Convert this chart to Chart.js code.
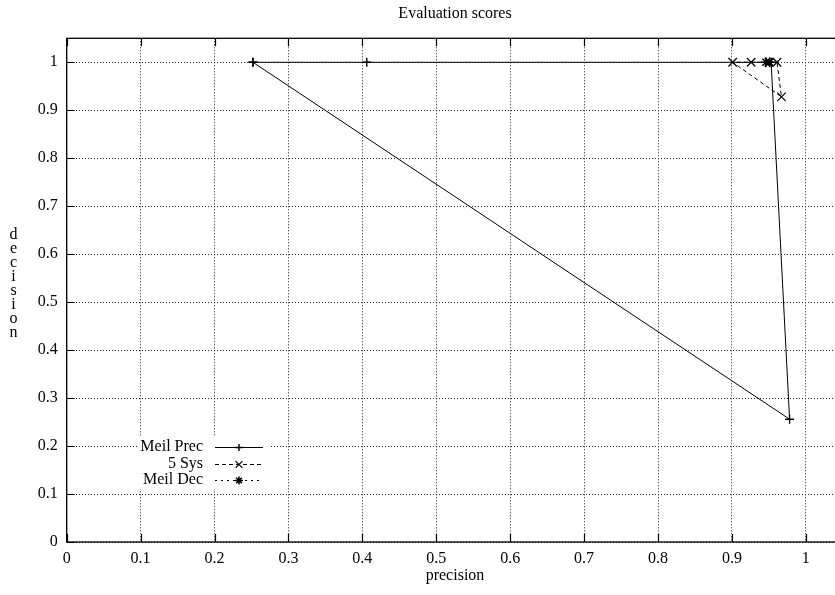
<!DOCTYPE html>
<html>
<head>
<meta charset="utf-8">
<script src="https://cdn.jsdelivr.net/npm/chart.js@4/dist/chart.umd.min.js"></script>
<style>
html,body{margin:0;padding:0;background:#fff;overflow:hidden;}
#wrap{width:850px;height:595px;}
</style>
</head>
<body>
<div id="wrap"><canvas id="c" width="850" height="595"></canvas></div>
<script>
// ---- data ----
const chartTitle = "Evaluation scores";
const xAxisLabel = "precision";
const yAxisLabel = "decision";
const xTickValues = [0, 0.1, 0.2, 0.3, 0.4, 0.5, 0.6, 0.7, 0.8, 0.9, 1];
const xTickLabels = ["0", "0.1", "0.2", "0.3", "0.4", "0.5", "0.6", "0.7", "0.8", "0.9", "1"];
const yTickValues = [0, 0.1, 0.2, 0.3, 0.4, 0.5, 0.6, 0.7, 0.8, 0.9, 1];
const yTickLabels = ["0", "0.1", "0.2", "0.3", "0.4", "0.5", "0.6", "0.7", "0.8", "0.9", "1"];
const seriesNames = ["Meil Prec", "5 Sys", "Meil Dec"];
const meilPrecX = [0.252, 0.406, 0.953, 0.978, 0.252];
const meilPrecY = [1, 1, 1, 0.256, 1];
const fiveSysX = [0.950, 0.926, 0.901, 0.967, 0.961];
const fiveSysY = [1, 1, 1, 0.928, 1];
const meilDecX = [0.946, 0.951];
const meilDecY = [1, 1];

const toPts = (xs, ys) => xs.map((x, i) => ({x: x, y: ys[i]}));
const FONT = "'Liberation Serif', 'Times New Roman', serif";

const datasets = [
  {label: seriesNames[0], data: toPts(meilPrecX, meilPrecY), borderColor: '#000', borderWidth: 1,
   borderDash: [], pointStyle: 'cross', pointRadius: 4.5, pointBorderWidth: 1.4, pointBorderColor: '#000'},
  {label: seriesNames[1], data: toPts(fiveSysX, fiveSysY), borderColor: '#000', borderWidth: 1,
   borderDash: [4, 3], pointStyle: 'crossRot', pointRadius: 6, pointBorderWidth: 1.2, pointBorderColor: '#000'},
  {label: seriesNames[2], data: toPts(meilDecX, meilDecY), borderColor: '#000', borderWidth: 1,
   borderDash: [2, 4], pointStyle: 'star', pointRadius: 5, pointBorderWidth: 1.5, pointBorderColor: '#000'}
];

function drawMarker(ctx, style, r, x, y, lw) {
  ctx.save();
  ctx.setLineDash([]);
  ctx.lineWidth = lw;
  ctx.strokeStyle = '#000';
  ctx.beginPath();
  const d = r * Math.SQRT1_2;
  if (style === 'cross' || style === 'star') {
    ctx.moveTo(x - r, y); ctx.lineTo(x + r, y);
    ctx.moveTo(x, y - r); ctx.lineTo(x, y + r);
  }
  if (style === 'crossRot' || style === 'star') {
    ctx.moveTo(x - d, y - d); ctx.lineTo(x + d, y + d);
    ctx.moveTo(x - d, y + d); ctx.lineTo(x + d, y - d);
  }
  ctx.stroke();
  ctx.restore();
}

const gnuplotDecor = {
  id: 'gnuplotDecor',
  afterDraw(chart) {
    const ctx = chart.ctx;
    const a = chart.chartArea;
    const xs = chart.scales.x, ys = chart.scales.y;
    ctx.save();
    // legend box (opaque)
    const legX0 = 137, legX1 = 269, legY0 = 436, legY1 = 489;
    ctx.fillStyle = '#fff';
    ctx.fillRect(legX0, legY0, legX1 - legX0, legY1 - legY0);
    // frame
    ctx.strokeStyle = '#000';
    ctx.lineWidth = 1.3;
    ctx.setLineDash([]);
    ctx.strokeRect(a.left, a.top, a.right - a.left, a.bottom - a.top);
    // inward tick marks
    const tl = 8;
    ctx.lineWidth = 1.2;
    ctx.beginPath();
    xTickValues.forEach(v => {
      const px = Math.round(xs.getPixelForValue(v)) + 0.5;
      ctx.moveTo(px, a.bottom); ctx.lineTo(px, a.bottom - tl);
      ctx.moveTo(px, a.top); ctx.lineTo(px, a.top + tl);
    });
    yTickValues.forEach(v => {
      const py = Math.round(ys.getPixelForValue(v)) + 0.5;
      ctx.moveTo(a.left, py); ctx.lineTo(a.left + tl, py);
      ctx.moveTo(a.right, py); ctx.lineTo(a.right - tl, py);
    });
    ctx.stroke();
    // texts
    ctx.fillStyle = '#000';
    ctx.font = '16px ' + FONT;
    ctx.textAlign = 'center';
    ctx.textBaseline = 'middle';
    ctx.fillText(chartTitle, 455, 14);
    ctx.fillText(xAxisLabel, 455, 576);
    const letters = yAxisLabel.split('');
    letters.forEach((ch, i) => ctx.fillText(ch, 13.5, 235 + i * 14));
    // legend entries
    const rowY = [446.5, 463.5, 480];
    datasets.forEach((ds, i) => {
      const y = rowY[i];
      ctx.textAlign = 'right';
      ctx.fillStyle = '#000';
      ctx.fillText(ds.label, 203, y);
      ctx.beginPath();
      ctx.setLineDash(ds.borderDash);
      ctx.lineWidth = 1;
      ctx.strokeStyle = '#000';
      ctx.moveTo(215, Math.round(y) + 0.5);
      ctx.lineTo(263, Math.round(y) + 0.5);
      ctx.stroke();
      ctx.setLineDash([]);
      drawMarker(ctx, ds.pointStyle, ds.pointRadius * 0.8, 239, Math.round(y) + 0.5, ds.pointBorderWidth);
    });
    ctx.restore();
  }
};

new Chart(document.getElementById('c'), {
  type: 'scatter',
  data: {datasets: datasets.map(d => Object.assign({showLine: true, fill: false, tension: 0, pointBackgroundColor: '#000'}, d))},
  options: {
    responsive: false,
    devicePixelRatio: 1,
    animation: false,
    layout: {padding: {top: 38.3, right: 6.3, left: 0, bottom: 0}},
    plugins: {legend: {display: false}, title: {display: false}, tooltip: {enabled: false}},
    scales: {
      x: {
        type: 'linear', min: 0, max: 1.05,
        afterBuildTicks: s => { s.ticks = xTickValues.map(v => ({value: v})); },
        afterFit: s => { s.height = 53; },
        ticks: {callback: (v, i) => xTickLabels[i], color: '#000', padding: 7, maxRotation: 0,
                font: {family: FONT, size: 16}},
        grid: {color: '#222', lineWidth: 1, drawTicks: false},
        border: {display: false, dash: [1, 2]}
      },
      y: {
        type: 'linear', min: 0, max: 1.05,
        afterBuildTicks: s => { s.ticks = yTickValues.map(v => ({value: v})); },
        afterFit: s => { s.width = 66.7; },
        ticks: {callback: (v, i) => yTickLabels[i], color: '#000', padding: 9,
                font: {family: FONT, size: 16}},
        grid: {color: '#222', lineWidth: 1, drawTicks: false},
        border: {display: false, dash: [1, 2]}
      }
    }
  },
  plugins: [gnuplotDecor]
});
</script>
</body>
</html>
